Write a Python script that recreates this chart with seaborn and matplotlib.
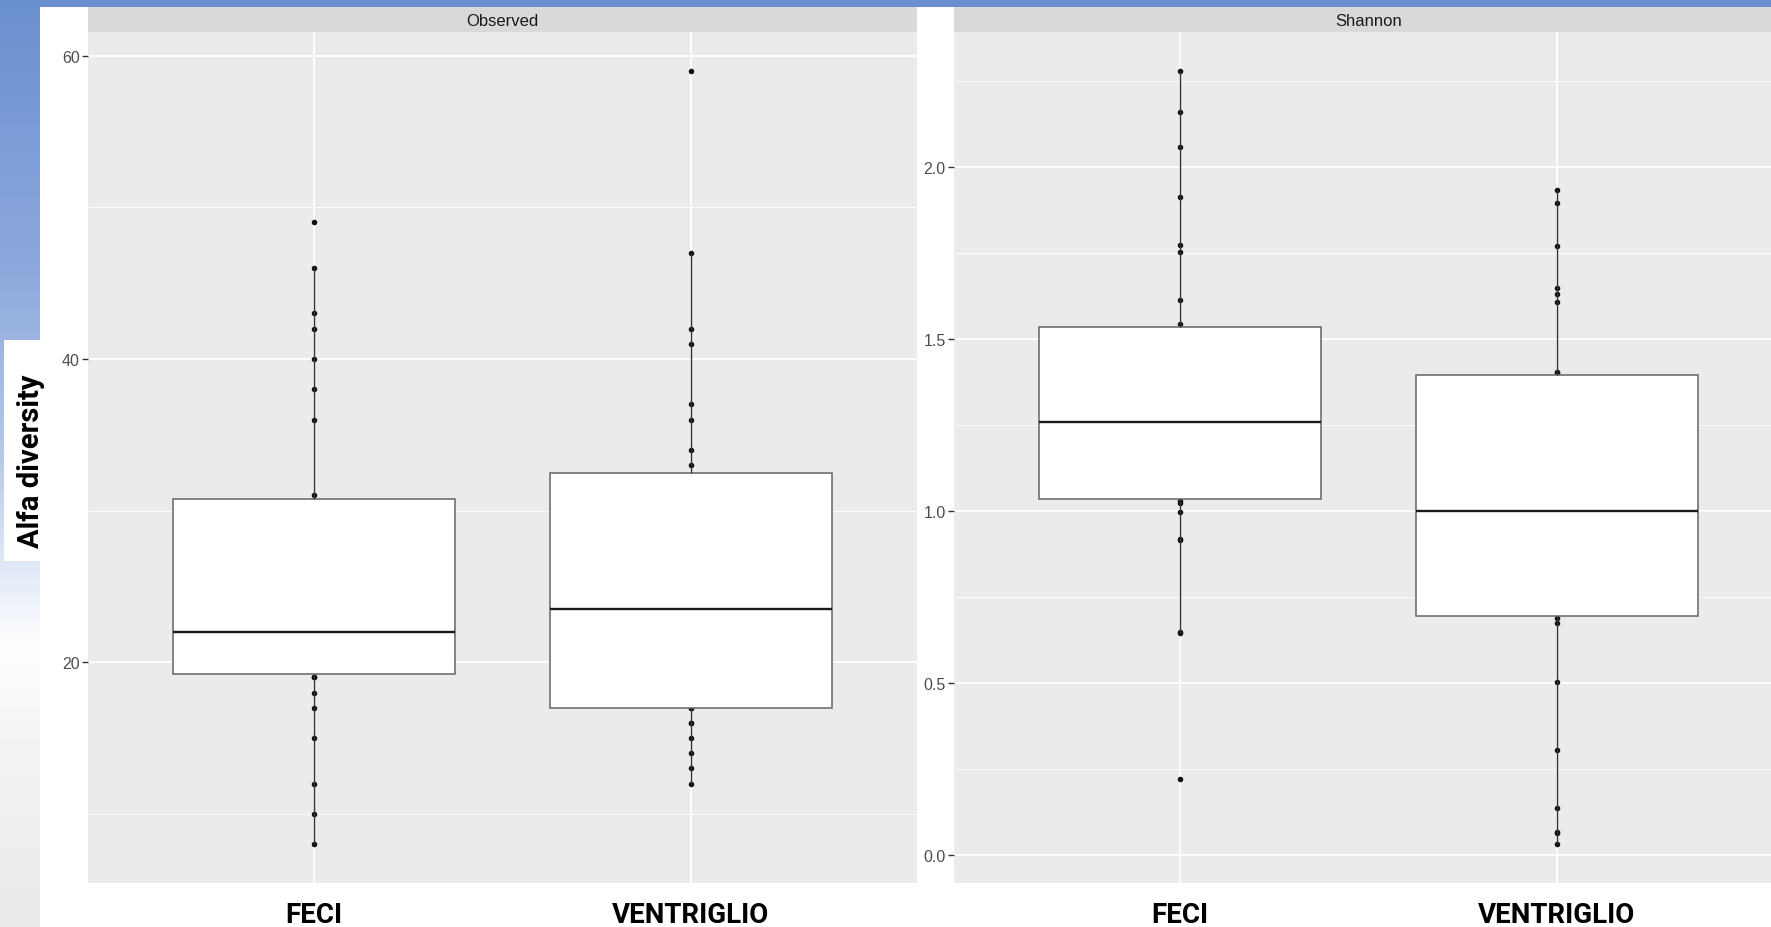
import numpy as np
import pandas as pd
import matplotlib
matplotlib.use("Agg")
import matplotlib.pyplot as plt
from matplotlib.patches import Rectangle
from matplotlib.ticker import FixedLocator, FormatStrFormatter
import seaborn as sns

# ---------------- data ----------------
groups = ["FECI", "VENTRIGLIO"]
metrics = ["Observed", "Shannon"]
y_title = "Alfa diversity"

obs_feci = [8, 10, 12, 15, 17, 18, 19, 19, 20, 20, 21, 21, 22, 22, 22, 22,
            24, 25, 26, 27, 28, 30, 31, 36, 38, 40, 42, 43, 46, 49]
obs_ventriglio = [12, 13, 14, 15, 16, 16, 17, 17, 17, 18, 19, 20, 21, 22, 23,
                  24, 25, 26, 28, 29, 30, 31, 33, 34, 36, 37, 41, 42, 47, 59]
sha_feci = [0.221, 0.645, 0.649, 0.915, 0.920, 0.998, 1.025, 1.030, 1.054,
            1.10, 1.15, 1.19, 1.22, 1.24, 1.25, 1.27, 1.31, 1.36, 1.41, 1.45,
            1.48, 1.509, 1.545, 1.614, 1.753, 1.773, 1.914, 2.059, 2.161, 2.280]
sha_ventriglio = [0.032, 0.065, 0.069, 0.137, 0.305, 0.504, 0.676, 0.691,
                  0.707, 0.76, 0.82, 0.88, 0.93, 0.96, 0.99, 1.01, 1.06, 1.12,
                  1.19, 1.25, 1.31, 1.382, 1.402, 1.405, 1.607, 1.632, 1.649,
                  1.772, 1.896, 1.932]

obs_major = [20, 40, 60]
obs_minor = [10, 30, 50]
sha_major = [0.0, 0.5, 1.0, 1.5, 2.0]
sha_minor = [0.25, 0.75, 1.25, 1.75, 2.25]

# ---------------- style ----------------
sns.set_style("white")
plt.rcParams["font.family"] = ["Liberation Sans", "DejaVu Sans"]

W, H = 1771, 928
fig = plt.figure(figsize=(W / 100, H / 100), dpi=100)
fig.patch.set_facecolor("white")


def fx(px):
    return px / W


def fy(py):
    return 1 - py / H


# left gradient strip (slide background)
gax = fig.add_axes([0, 0, fx(40), 1], zorder=-5)
stops = [(0.0, (0x6A, 0x8F, 0xD0)), (0.30, (0x8E, 0xAA, 0xDD)),
         (0.50, (0xB8, 0xCA, 0xEB)), (0.62, (0xE4, 0xEB, 0xF8)),
         (0.70, (0xFF, 0xFF, 0xFF)), (0.80, (0xF4, 0xF4, 0xF4)),
         (1.0, (0xEA, 0xEA, 0xEA))]
t = np.linspace(0, 1, 400)
grad = np.zeros((400, 1, 3))
for c in range(3):
    grad[:, 0, c] = np.interp(t, [s[0] for s in stops], [s[1][c] / 255 for s in stops])
gax.imshow(grad, aspect="auto", extent=[0, 1, 1, 0])
gax.set_axis_off()

# top blue band
fig.add_artist(Rectangle((0, fy(8)), 1, 8 / H, transform=fig.transFigure,
                         facecolor="#6A8FD0", edgecolor="none", zorder=5))

# y title box
fig.add_artist(Rectangle((fx(4), fy(562)), fx(36), 221 / H, transform=fig.transFigure,
                         facecolor="white", edgecolor="none", zorder=3))
fig.text(fx(31), fy(461), y_title, rotation=90, ha="center", va="center",
         family=["Roboto", "DejaVu Sans"], fontweight="bold", fontsize=21,
         color="black", zorder=6)

panel_left = [88, 954]
panel_w = 829
panel_top, panel_bot = 33, 884

datasets = [(obs_feci, obs_ventriglio), (sha_feci, sha_ventriglio)]
majors = [obs_major, sha_major]
minors = [obs_minor, sha_minor]
fmts = ["%d", "%.1f"]

for i, metric in enumerate(metrics):
    a, b = datasets[i]
    df = pd.DataFrame({"group": [groups[0]] * len(a) + [groups[1]] * len(b),
                       "value": list(a) + list(b)})
    ax = fig.add_axes([fx(panel_left[i]), fy(panel_bot), fx(panel_w),
                       (panel_bot - panel_top) / H])
    ax.set_facecolor("#EBEBEB")
    for s in ax.spines.values():
        s.set_visible(False)

    sns.stripplot(data=df, x="group", y="value", order=groups, ax=ax,
                  jitter=False, color="#111111", size=4.0, linewidth=0,
                  zorder=1.5)
    sns.boxplot(data=df, x="group", y="value", order=groups, ax=ax,
                width=0.75, color="white", linecolor="#333333", linewidth=1.0,
                showfliers=False, showcaps=False, whis=1.5,
                boxprops=dict(facecolor="white", edgecolor="#707070", linewidth=1.2),
                whiskerprops=dict(color="#333333", linewidth=1.0),
                medianprops=dict(color="#1A1A1A", linewidth=1.7))

    vals = df["value"].to_numpy()
    lo, hi = vals.min(), vals.max()
    r = hi - lo
    ax.set_ylim(lo - 0.05 * r, hi + 0.05 * r)
    ax.set_xlim(-0.6, 1.6)

    ax.set_axisbelow(True)
    ax.yaxis.set_major_locator(FixedLocator(majors[i]))
    ax.yaxis.set_minor_locator(FixedLocator(minors[i]))
    ax.yaxis.set_major_formatter(FormatStrFormatter(fmts[i]))
    ax.grid(which="major", axis="both", color="white", linewidth=1.3)
    ax.grid(which="minor", axis="y", color="white", linewidth=0.6)

    ax.tick_params(axis="y", which="major", length=4, width=1, color="#333333",
                   labelsize=11.5, labelcolor="#4D4D4D", pad=2, left=True)
    ax.tick_params(axis="y", which="minor", length=0)
    ax.tick_params(axis="x", length=0, pad=13, labelsize=20, labelcolor="black")
    for lbl in ax.get_xticklabels():
        lbl.set_fontfamily(["Roboto", "DejaVu Sans"])
        lbl.set_fontweight("bold")
    ax.set_xlabel("")
    ax.set_ylabel("")

    # facet strip
    sax = fig.add_axes([fx(panel_left[i]), fy(panel_top), fx(panel_w), 25 / H])
    sax.set_facecolor("#D9D9D9")
    sax.set_xticks([])
    sax.set_yticks([])
    for s in sax.spines.values():
        s.set_visible(False)
    sax.text(0.5, 0.45, metric, transform=sax.transAxes, ha="center", va="center",
             fontsize=12, color="#1A1A1A")

fig.savefig("out.png", dpi=100, facecolor="white")
